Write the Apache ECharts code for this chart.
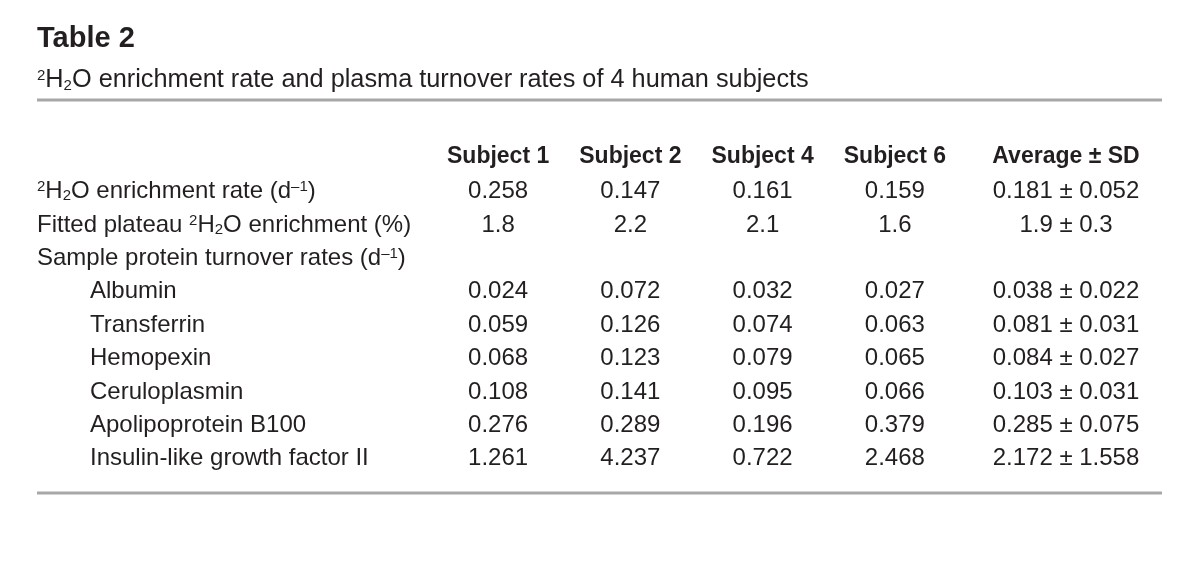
<!DOCTYPE html>
<html><head><meta charset="utf-8">
<script src="https://cdn.jsdelivr.net/npm/echarts@6/dist/echarts.min.js"></script>
<style>html,body{margin:0;padding:0;background:#fff}#c{width:1200px;height:579px}</style>
</head><body><div id="c"></div>
<script>
// ---- data ----
const tableTitle = 'Table 2';
const tableSubtitle = '²H₂O enrichment rate and plasma turnover rates of 4 human subjects';
const subjects = ['Subject 1', 'Subject 2', 'Subject 4', 'Subject 6'];
const averageHeader = ['Average ± SD'];
const rowLabels = [
  '²H₂O enrichment rate (d⁻¹)',
  'Fitted plateau ²H₂O enrichment (%)',
  'Sample protein turnover rates (d⁻¹)',
  'Albumin',
  'Transferrin',
  'Hemopexin',
  'Ceruloplasmin',
  'Apolipoprotein B100',
  'Insulin-like growth factor II'
];
const indented = [false, false, false, true, true, true, true, true, true];
const subject1 = ['0.258', '1.8', null, '0.024', '0.059', '0.068', '0.108', '0.276', '1.261'];
const subject2 = ['0.147', '2.2', null, '0.072', '0.126', '0.123', '0.141', '0.289', '4.237'];
const subject4 = ['0.161', '2.1', null, '0.032', '0.074', '0.079', '0.095', '0.196', '0.722'];
const subject6 = ['0.159', '1.6', null, '0.027', '0.063', '0.065', '0.066', '0.379', '2.468'];
const average  = ['0.181', '1.9', null, '0.038', '0.081', '0.084', '0.103', '0.285', '2.172'];
const sdValues = ['0.052', '0.3', null, '0.022', '0.031', '0.027', '0.031', '0.075', '1.558'];

// ---- styling helpers ----
const INK = '#231f20';
const FONT = '"Liberation Sans", Arial, sans-serif';
const BODY = 24;
function scripts(size) {
  return {
    sup: { fontFamily: FONT, fontSize: 15, color: INK, verticalAlign: 'top', lineHeight: 15 },
    sub: { fontFamily: FONT, fontSize: 15, color: INK, verticalAlign: 'bottom', lineHeight: 4 },
    ind: { width: 53, fontSize: size, fontFamily: FONT }
  };
}
function toRich(s) {
  return s.replace(/⁻¹/g, '{sup|–1}').replace(/²/g, '{sup|2}').replace(/₂/g, '{sub|2}');
}

const subjectCols = [subject1, subject2, subject4, subject6];
const cellData = [];
subjectCols.forEach((col, ci) => col.forEach((v, ri) => { if (v !== null) cellData.push([ci, ri, v]); }));
const avgData = [];
average.forEach((v, ri) => { if (v !== null) avgData.push([0, ri, v + ' ± ' + sdValues[ri]]); });

const chart = echarts.init(document.getElementById('c'), null, { renderer: 'canvas' });

const gridTop = 175, gridHeight = 300.5;
const xAxisCommon = {
  type: 'category', position: 'top',
  axisLine: { show: false }, axisTick: { show: false }, splitLine: { show: false },
  axisLabel: { fontFamily: FONT, fontWeight: 'bold', fontSize: 23, color: INK, margin: 18, verticalAlign: 'middle', interval: 0 }
};
const valueLabel = {
  show: true, position: 'inside', fontFamily: FONT, fontSize: BODY, color: INK, opacity: 1,
  formatter: p => p.data[2]
};

chart.setOption({
  backgroundColor: '#ffffff',
  animation: false,
  title: {
    text: tableTitle,
    subtext: toRich(tableSubtitle),
    left: 37, top: 24, padding: 0, itemGap: 15,
    textStyle: { fontFamily: FONT, fontWeight: 'bold', fontSize: 29, color: INK },
    subtextStyle: { fontFamily: FONT, fontSize: 25.3, color: INK, rich: scripts(25.3) }
  },
  grid: [
    { left: 432, width: 529, top: gridTop, height: gridHeight },
    { left: 986, width: 160, top: gridTop, height: gridHeight }
  ],
  xAxis: [
    Object.assign({}, xAxisCommon, { gridIndex: 0, data: subjects }),
    Object.assign({}, xAxisCommon, { gridIndex: 1, data: averageHeader })
  ],
  yAxis: [
    {
      gridIndex: 0, type: 'category', inverse: true, data: rowLabels,
      axisLine: { show: false }, axisTick: { show: false }, splitLine: { show: false },
      axisLabel: {
        interval: 0, align: 'left', margin: 395, verticalAlign: 'middle',
        fontFamily: FONT, fontSize: BODY, color: INK, rich: scripts(BODY),
        formatter: (v, i) => (indented[i] ? '{ind| }' : '') + toRich(v)
      }
    },
    {
      gridIndex: 1, type: 'category', inverse: true, data: rowLabels,
      axisLine: { show: false }, axisTick: { show: false }, splitLine: { show: false },
      axisLabel: { show: false }
    }
  ],
  series: [
    {
      type: 'scatter', xAxisIndex: 0, yAxisIndex: 0, data: cellData,
      symbolSize: 0, itemStyle: { color: INK }, label: valueLabel, silent: true
    },
    {
      type: 'scatter', xAxisIndex: 1, yAxisIndex: 1, data: avgData,
      symbolSize: 0, itemStyle: { color: INK }, label: valueLabel, silent: true
    }
  ],
  graphic: [
    { type: 'line', shape: { x1: 37, y1: 100, x2: 1162, y2: 100 }, style: { stroke: '#a7a7a7', lineWidth: 3 } },
    { type: 'line', shape: { x1: 37, y1: 493, x2: 1162, y2: 493 }, style: { stroke: '#a7a7a7', lineWidth: 3 } }
  ]
});
</script></body></html>
